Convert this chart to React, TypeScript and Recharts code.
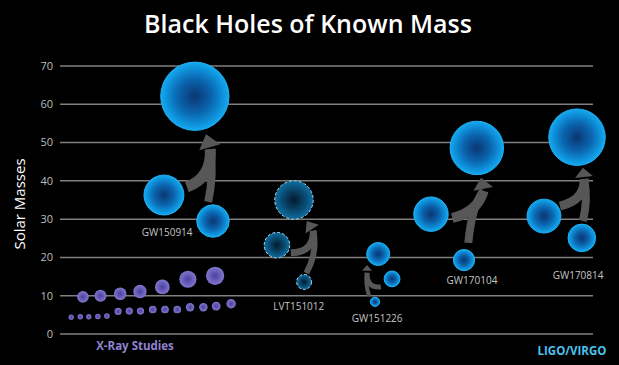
import React from "react";
import { ScatterChart, Scatter, XAxis, YAxis, CartesianGrid } from "recharts";

const WIDTH = 619;
const HEIGHT = 365;
const MARGIN = { top: 66, right: 26, bottom: 31, left: 0 };
const Y_AXIS_WIDTH = 60;
const X_DOMAIN: [number, number] = [0, 100];
const Y_DOMAIN: [number, number] = [0, 70];
const Y_TICKS = [0, 10, 20, 30, 40, 50, 60, 70];

// LIGO / VIRGO mergers (solar masses)
const eventNames = ["GW150914", "LVT151012", "GW151226", "GW170104", "GW170814"];
const primaryX = [19.5, 40.7, 62.3, 69.6, 90.8];
const primaryMass = [36.3, 23.2, 14.4, 31.3, 30.8];
const secondaryX = [28.7, 45.8, 59.1, 75.8, 97.9];
const secondaryMass = [29.5, 13.6, 8.4, 19.3, 25.1];
const finalX = [25.3, 43.9, 59.7, 78.2, 97.0];
const finalMass = [62.1, 35.0, 20.9, 48.6, 51.4];
const labelX = [20.1, 44.8, 59.5, 77.3, 97.2];
const labelY = [26.6, 7.3, 4.2, 14.1, 15.4];

// merger arrows, in chart units [x, mass]
const arrowLeftStart = [[23.8, 38.4], [43.3, 21.2], [60.2, 12.3], [73.6, 30.3], [93.8, 33.4]];
const arrowLeftCtrl = [[28.5, 40.8], [47.7, 21.4], [57.6, 11.8], [78.4, 31.9], [98.5, 35.0]];
const arrowBottomStart = [[27.8, 34.5], [46.2, 15.9], [58.0, 9.9], [76.6, 23.8], [98.1, 29.5]];
const arrowBottomCtrl = [[28.9, 41.5], [48.4, 21.4], [57.2, 13.3], [77.3, 33.7], [99.1, 35.0]];
const arrowBase = [[28.1, 48.8], [47.3, 27.4], [57.6, 16.5], [79.4, 37.9], [98.3, 41.0]];
const arrowTip = [[27.4, 52.2], [46.3, 29.5], [57.6, 18.0], [79.0, 40.8], [98.1, 43.4]];

// X-ray binaries
const xrayUpperX = [4.3, 7.6, 11.3, 15.0, 19.2, 24.0, 29.1];
const xrayUpperMass = [9.7, 10.0, 10.5, 11.1, 12.3, 14.3, 15.2];
const xrayLowerX = [2.1, 3.8, 5.4, 7.1, 8.8, 10.9, 13.0, 15.1, 17.4, 19.7, 22.0, 24.4, 26.9, 29.3, 32.1];
const xrayLowerMass = [4.4, 4.5, 4.5, 4.6, 4.7, 5.9, 6.0, 6.0, 6.4, 6.4, 6.4, 7.0, 7.0, 7.3, 7.9];

// styles
const BUBBLE_PX_PER_MASS = 0.55;
const XRAY_PX_PER_MASS = 0.6;
const ARROW_COLOR = "#575757";
const arrowWidthLeft = [11, 7, 5, 10, 9];
const arrowWidthBottom = [8, 6, 4, 8, 8];
const arrowHeadHalf = [11, 8, 5, 10, 9];
const FONT = "'Open Sans', sans-serif";

const PLOT_LEFT = MARGIN.left + Y_AXIS_WIDTH;
const PLOT_W = WIDTH - MARGIN.right - PLOT_LEFT;
const PLOT_BOTTOM = HEIGHT - MARGIN.bottom;
const PLOT_H = PLOT_BOTTOM - MARGIN.top;
const sx = (v: number) => PLOT_LEFT + ((v - X_DOMAIN[0]) / (X_DOMAIN[1] - X_DOMAIN[0])) * PLOT_W;
const sy = (v: number) => PLOT_BOTTOM - ((v - Y_DOMAIN[0]) / (Y_DOMAIN[1] - Y_DOMAIN[0])) * PLOT_H;

const toPoints = (xs: number[], ms: number[]) =>
  xs.map((x, i) => ({ x, mass: ms[i], candidate: eventNames[i]?.startsWith("LVT") }));

const primaryData = toPoints(primaryX, primaryMass);
const secondaryData = toPoints(secondaryX, secondaryMass);
const finalData = toPoints(finalX, finalMass);
const xrayUpper = xrayUpperX.map((x, i) => ({ x, mass: xrayUpperMass[i] }));
const xrayLower = xrayLowerX.map((x, i) => ({ x, mass: xrayLowerMass[i] }));
const labelData = eventNames.map((name, i) => ({ x: labelX[i], mass: labelY[i], name }));
const arrowData = eventNames.map((name, i) => ({ x: arrowTip[i][0], mass: arrowTip[i][1], index: i }));

const Bubble = (props: any) => {
  const { cx, cy, payload } = props;
  const r = BUBBLE_PX_PER_MASS * payload.mass;
  if (payload.candidate) {
    return (
      <circle cx={cx} cy={cy} r={r} fill="url(#lvtGrad)" stroke="#a9d9f2" strokeWidth={1} strokeDasharray="3 2" />
    );
  }
  return <circle cx={cx} cy={cy} r={r} fill="url(#bhGrad)" stroke="#1fb0f4" strokeWidth={1} />;
};

const XrayDot = (props: any) => {
  const { cx, cy, payload } = props;
  return <circle cx={cx} cy={cy} r={XRAY_PX_PER_MASS * payload.mass} fill="url(#xrayGrad)" />;
};

const EventLabel = (props: any) => {
  const { cx, cy, payload } = props;
  return (
    <text x={cx} y={cy} textAnchor="middle" dominantBaseline="central" fill="#c4c4c4" fontSize={10} fontFamily={FONT}>
      {payload.name}
    </text>
  );
};

const MergeArrow = (props: any) => {
  const i = props.payload.index;
  const P = (p: number[]) => [sx(p[0]), sy(p[1])];
  const a = P(arrowLeftStart[i]);
  const ac = P(arrowLeftCtrl[i]);
  const b = P(arrowBottomStart[i]);
  const bc = P(arrowBottomCtrl[i]);
  const base = P(arrowBase[i]);
  const tip = P(arrowTip[i]);
  const dx = tip[0] - base[0];
  const dy = tip[1] - base[1];
  const len = Math.hypot(dx, dy) || 1;
  const nx = -dy / len;
  const ny = dx / len;
  const h = arrowHeadHalf[i];
  const back = [base[0] - (dx / len) * 2, base[1] - (dy / len) * 2];
  return (
    <g>
      <path d={`M${a[0]},${a[1]} Q${ac[0]},${ac[1]} ${back[0]},${back[1]}`} fill="none" stroke={ARROW_COLOR} strokeWidth={arrowWidthLeft[i]} />
      <path d={`M${b[0]},${b[1]} Q${bc[0]},${bc[1]} ${back[0]},${back[1]}`} fill="none" stroke={ARROW_COLOR} strokeWidth={arrowWidthBottom[i]} />
      <polygon
        points={`${base[0] + nx * h},${base[1] + ny * h} ${tip[0]},${tip[1]} ${base[0] - nx * h},${base[1] - ny * h}`}
        fill={ARROW_COLOR}
      />
    </g>
  );
};

export default function App() {
  return (
    <div style={{ position: "absolute", left: 0, top: 0, width: WIDTH, height: HEIGHT, background: "#000" }}>
      <ScatterChart width={WIDTH} height={HEIGHT} margin={MARGIN}>
        <CartesianGrid vertical={false} stroke="#7f7f7f" strokeWidth={1.5} />
        <XAxis type="number" dataKey="x" domain={X_DOMAIN} hide />
        <YAxis
          type="number"
          dataKey="mass"
          domain={Y_DOMAIN}
          ticks={Y_TICKS}
          width={Y_AXIS_WIDTH}
          axisLine={false}
          tickLine={false}
          tickSize={0}
          tickMargin={7}
          tick={{ fill: "#bdbdbd", fontSize: 11, fontFamily: FONT }}
        />
        <Scatter data={arrowData} shape={MergeArrow} isAnimationActive={false} />
        <Scatter data={xrayLower} shape={XrayDot} isAnimationActive={false} />
        <Scatter data={xrayUpper} shape={XrayDot} isAnimationActive={false} />
        <Scatter data={primaryData} shape={Bubble} isAnimationActive={false} />
        <Scatter data={secondaryData} shape={Bubble} isAnimationActive={false} />
        <Scatter data={finalData} shape={Bubble} isAnimationActive={false} />
        <Scatter data={labelData} shape={EventLabel} isAnimationActive={false} />
      </ScatterChart>
      <svg
        width={WIDTH}
        height={HEIGHT}
        style={{ position: "absolute", left: 0, top: 0, pointerEvents: "none" }}
        fontFamily={FONT}
      >
        <defs>
          <radialGradient id="bhGrad">
            <stop offset="0%" stopColor="#0a3670" />
            <stop offset="50%" stopColor="#0b64ae" />
            <stop offset="85%" stopColor="#0e95dd" />
            <stop offset="100%" stopColor="#15a9ef" />
          </radialGradient>
          <radialGradient id="lvtGrad">
            <stop offset="0%" stopColor="#041b2c" />
            <stop offset="60%" stopColor="#0a4a72" />
            <stop offset="100%" stopColor="#106f9f" />
          </radialGradient>
          <radialGradient id="xrayGrad">
            <stop offset="0%" stopColor="#4a40a0" />
            <stop offset="100%" stopColor="#8277cc" />
          </radialGradient>
        </defs>
        <text x={308} y={33} textAnchor="middle" fill="#fff" fontSize={25} fontWeight={600}>
          Black Holes of Known Mass
        </text>
        <text x={25} y={204} transform="rotate(-90 25 204)" textAnchor="middle" fill="#fff" fontSize={15}>
          Solar Masses
        </text>
        <text x={135} y={350} textAnchor="middle" fill="#8f83d2" fontSize={11.5} fontWeight="bold">
          X-Ray Studies
        </text>
        <text x={572} y={355} textAnchor="middle" fill="#4cc0ee" fontSize={11.5} fontWeight="bold">
          LIGO/VIRGO
        </text>
      </svg>
    </div>
  );
}
